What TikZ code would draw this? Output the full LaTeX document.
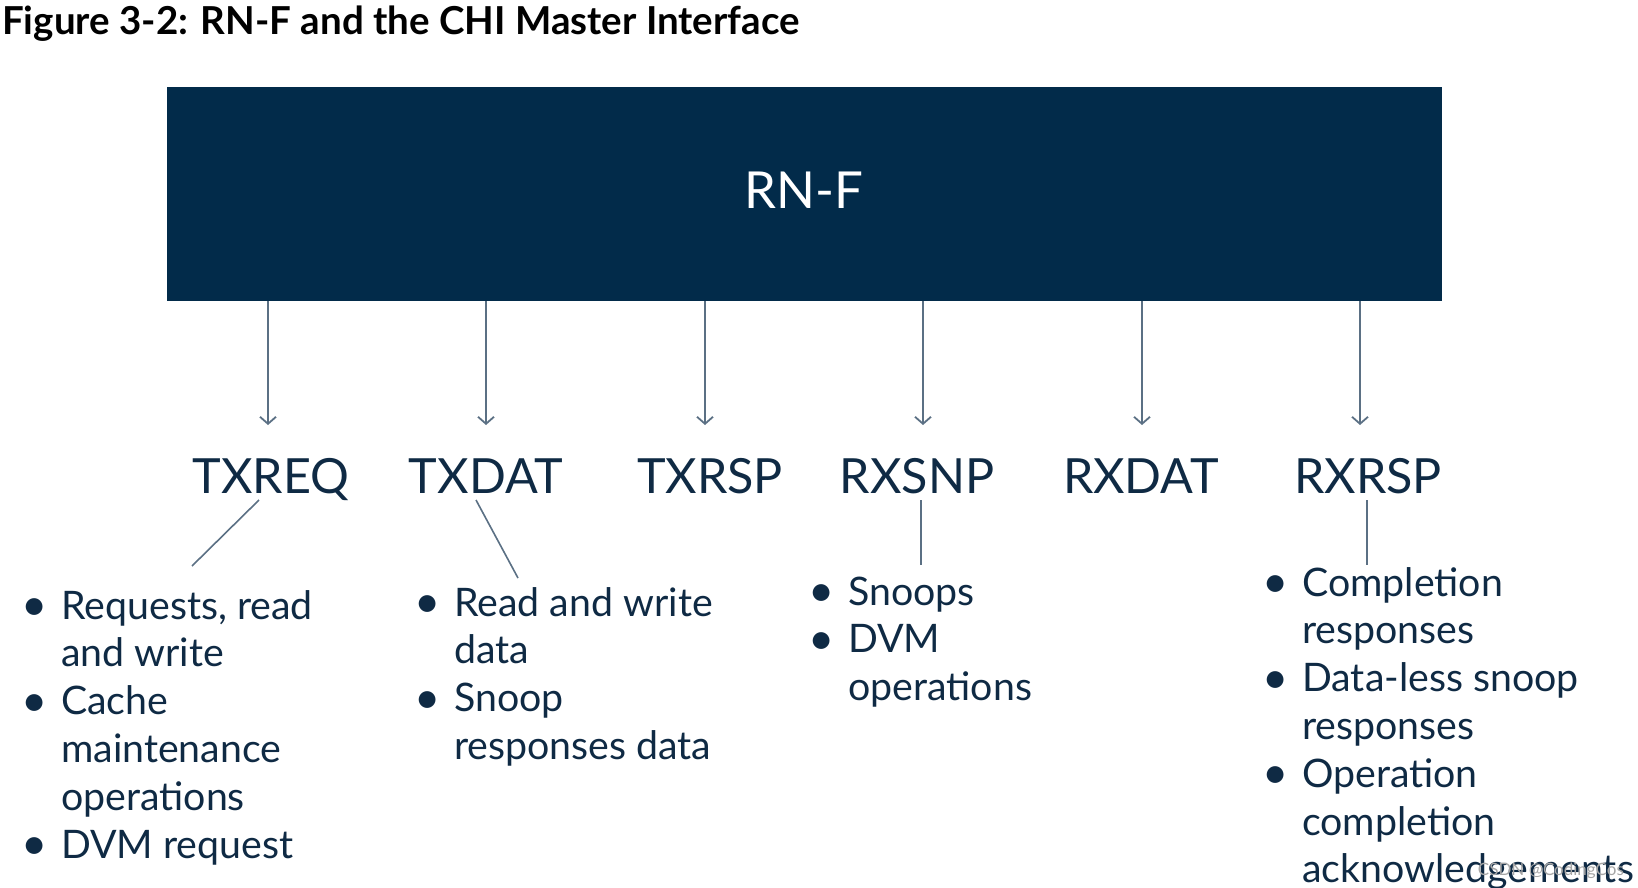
\documentclass[tikz,border=0pt]{standalone}
\usepackage{fontspec}
\setmainfont{Lato}
\usetikzlibrary{arrows.meta,calc}

\definecolor{navy}{HTML}{022B4A}
\definecolor{inktext}{HTML}{0F2A44}
\definecolor{wire}{HTML}{5B7084}

\newcommand{\bl}{\makebox[40pt][l]{\raisebox{-1.5pt}{\scalebox{1.15}{\textbullet}}}}

\begin{document}
\begin{tikzpicture}[x=1pt,y=1pt]
    \tikzstyle{every node}+=[inner sep=0pt]
    \tikzstyle{chan}=[font=\fontsize{48.5}{58}\selectfont, text=inktext, anchor=base]
    \tikzstyle{items}=[font=\fontsize{39.3}{47.8}\selectfont, text=inktext, anchor=base west]
    \tikzstyle{arr}=[wire, line width=1.8pt, -{Straight Barb[length=7pt,width=16pt]}]
    \tikzstyle{leader}=[wire, line width=1.6pt]
    \useasboundingbox (0,0) rectangle (1638,-888);

    \node [anchor=north west, font=\bfseries\fontsize{38.5}{44}\selectfont] (title) at (2,-6) {Figure 3-2: RN-F and the CHI Master Interface};

    \node [fill=navy, minimum width=1275pt, minimum height=214pt, anchor=north west] (box) at (167,-87) {};
    \node [text=white, font=\fontsize{51}{60}\selectfont] (rnf) at (804,-190) {RN-F};

    % channel names
    \node [chan] (txreq) at (271,-493) {TXREQ};
    \node [chan] (txdat) at (486,-493) {TXDAT};
    \node [chan] (txrsp) at (710,-493) {TXRSP};
    \node [chan] (rxsnp) at (917,-493) {RXSNP};
    \node [chan] (rxdat) at (1141,-493) {RXDAT};
    \node [chan] (rxrsp) at (1368,-493) {RXRSP};

    \coordinate (t1) at (268,-425);
    \coordinate (t2) at (486,-425);
    \coordinate (t3) at (705,-425);
    \coordinate (t4) at (923,-425);
    \coordinate (t5) at (1142,-425);
    \coordinate (t6) at (1360,-425);
    \draw [arr] (box.south -| t1) -- (t1);
    \draw [arr] (box.south -| t2) -- (t2);
    \draw [arr] (box.south -| t3) -- (t3);
    \draw [arr] (box.south -| t4) -- (t4);
    \draw [arr] (box.south -| t5) -- (t5);
    \draw [arr] (box.south -| t6) -- (t6);

    % bullet lists
    \node [items] (reqlist) at (21,-619) {\begin{tabular}[t]{@{}l@{}l@{}}
        \bl & Requests, read\\
            & and write\\
        \bl & Cache\\
            & maintenance\\
            & operations\\
        \bl & DVM request
    \end{tabular}};
    \node [items] (datlist) at (414,-616) {\begin{tabular}[t]{@{}l@{}l@{}}
        \bl & Read and write\\
            & data\\
        \bl & Snoop\\
            & responses data
    \end{tabular}};
    \node [items] (snplist) at (808,-605) {\begin{tabular}[t]{@{}l@{}l@{}}
        \bl & Snoops\\
        \bl & DVM\\
            & operations
    \end{tabular}};
    \node [items] (rsplist) at (1262,-596) {\begin{tabular}[t]{@{}l@{}l@{}}
        \bl & Completion\\
            & responses\\
        \bl & Data-less snoop\\
            & responses\\
        \bl & Operation\\
            & completion\\
            & acknowledgements
    \end{tabular}};

    \coordinate (e1) at (192,-566);
    \coordinate (e2) at (518,-578);
    \coordinate (e4) at (921,-565);
    \coordinate (e6) at (1367,-565);
    \draw [leader] ([xshift=-12pt,yshift=-7pt]txreq.base) -- (e1);
    \draw [leader] ([xshift=-10pt,yshift=-7pt]txdat.base) -- (e2);
    \draw [leader] ([xshift=4pt,yshift=-7pt]rxsnp.base) -- (e4);
    \draw [leader] ([xshift=-1pt,yshift=-7pt]rxrsp.base) -- (e6);

    \node [text=black!35, font=\fontsize{17}{20}\selectfont, anchor=base east] (mark) at (1624,-875) {CSDN @CodingCos};
\end{tikzpicture}
\end{document}
